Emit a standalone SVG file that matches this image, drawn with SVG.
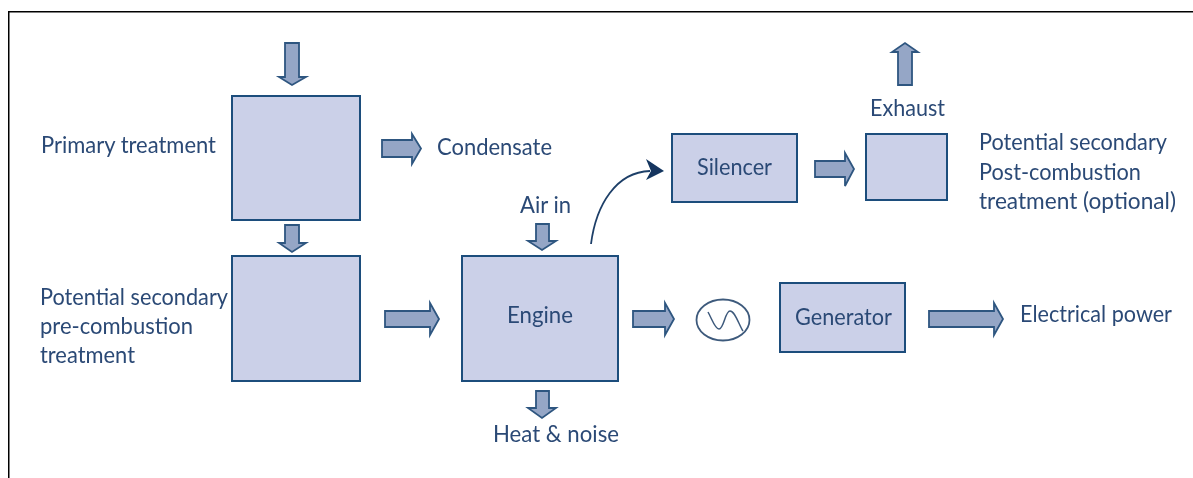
<svg xmlns="http://www.w3.org/2000/svg" width="1193" height="478" viewBox="0 0 1193 478">
<style>
.box{fill:#cbd0e8;stroke:#1f4e7c;stroke-width:2}
.arr{fill:#95a6c6;stroke:#2f5680;stroke-width:1.800;stroke-linejoin:miter}
.t{font-family:"Lato","Liberation Sans",sans-serif;font-size:24px;fill:#2c4a76}
</style>
<defs><filter id="soft" x="0" y="0" width="100%" height="100%"><feGaussianBlur stdDeviation="0.45"/></filter></defs>
<rect width="1193" height="478" fill="#ffffff"/>
<g filter="url(#soft)">
<path d="M8.500 478V11.500H1193" fill="none" stroke="#000000" stroke-width="2"/>
<g id="connectors">
<polygon class="arr" points="285,43 299,43 299,77 306,77 292,85 279,77 285,77"/>
<polygon class="arr" points="285,225 299,225 299,243 306,243 292,252 279,243 285,243"/>
<polygon class="arr" points="536,224 549,224 549,241 556,241 542,250 528,241 536,241"/>
<polygon class="arr" points="536,391 549,391 549,408 556,408 542,418 528,408 536,408"/>
<polygon class="arr" points="382,140 412,140 412,134 421,148.500 412,164 412,157 382,157"/>
<polygon class="arr" points="385,311 430,311 430,303 439,319 430,335 430,327 385,327"/>
<polygon class="arr" points="633,311 665,311 665,303 674,319 665,335 665,327 633,327"/>
<polygon class="arr" points="929,311 994,311 994,303 1003,319 994,335 994,327 929,327"/>
<polygon class="arr" points="815,161 845,161 845,153 854,169 845,186 845,177 815,177"/>
<polygon class="arr" points="898,85 912,85 912,52 918,52 905,43 892,52 898,52"/>
<path d="M591,244C596,205 616,172 650,171" fill="none" stroke="#1f3f68" stroke-width="1.800"/>
<polygon points="664,171 646,159 651,171 646,180" fill="#12355f"/>
</g>
<g id="primary-treatment"><rect class="box" x="232" y="96" width="128" height="124"/><text class="t" x="41" y="153" textLength="175" lengthAdjust="spacingAndGlyphs">Primary treatment</text></g>
<g id="secondary-pre-combustion"><rect class="box" x="232" y="256" width="128" height="125"/><text class="t" x="40" y="305" textLength="188" lengthAdjust="spacingAndGlyphs">Potential secondary</text><text class="t" x="40" y="334" textLength="153" lengthAdjust="spacingAndGlyphs">pre-combustion</text><text class="t" x="40" y="363" textLength="95" lengthAdjust="spacingAndGlyphs">treatment</text></g>
<g id="engine"><rect class="box" x="462" y="256" width="156" height="125"/><text class="t" x="507" y="323" textLength="66" lengthAdjust="spacingAndGlyphs">Engine</text></g>
<g id="silencer"><rect class="box" x="672" y="134" width="125" height="68"/><text class="t" x="697" y="175" textLength="75" lengthAdjust="spacingAndGlyphs">Silencer</text></g>
<g id="secondary-post-combustion"><rect class="box" x="866" y="134" width="81" height="66"/><text class="t" x="979" y="150" textLength="188" lengthAdjust="spacingAndGlyphs">Potential secondary</text><text class="t" x="979" y="180" textLength="162" lengthAdjust="spacingAndGlyphs">Post-combustion</text><text class="t" x="979" y="209" textLength="197" lengthAdjust="spacingAndGlyphs">treatment (optional)</text></g>
<g id="generator"><rect class="box" x="780" y="283" width="125" height="69"/><text class="t" x="795" y="325" textLength="97" lengthAdjust="spacingAndGlyphs">Generator</text></g>
<g id="alternator"><ellipse cx="723" cy="320" rx="26.500" ry="20.500" fill="#ffffff" stroke="#3e5a7c" stroke-width="1.800"/><path d="M708,312C712,319 715,329 719,329C724,329 725,311 730,311C735,311 739,325 743,331" fill="none" stroke="#3e5a7c" stroke-width="1.500"/></g>
<g id="labels">
<text class="t" x="437" y="155" textLength="115" lengthAdjust="spacingAndGlyphs">Condensate</text>
<text class="t" x="520" y="213" textLength="51" lengthAdjust="spacingAndGlyphs">Air in</text>
<text class="t" x="870" y="116" textLength="75" lengthAdjust="spacingAndGlyphs">Exhaust</text>
<text class="t" x="493" y="442" textLength="126" lengthAdjust="spacingAndGlyphs">Heat &amp; noise</text>
<text class="t" x="1020" y="322" textLength="152" lengthAdjust="spacingAndGlyphs">Electrical power</text>
</g>
</g>
</svg>
